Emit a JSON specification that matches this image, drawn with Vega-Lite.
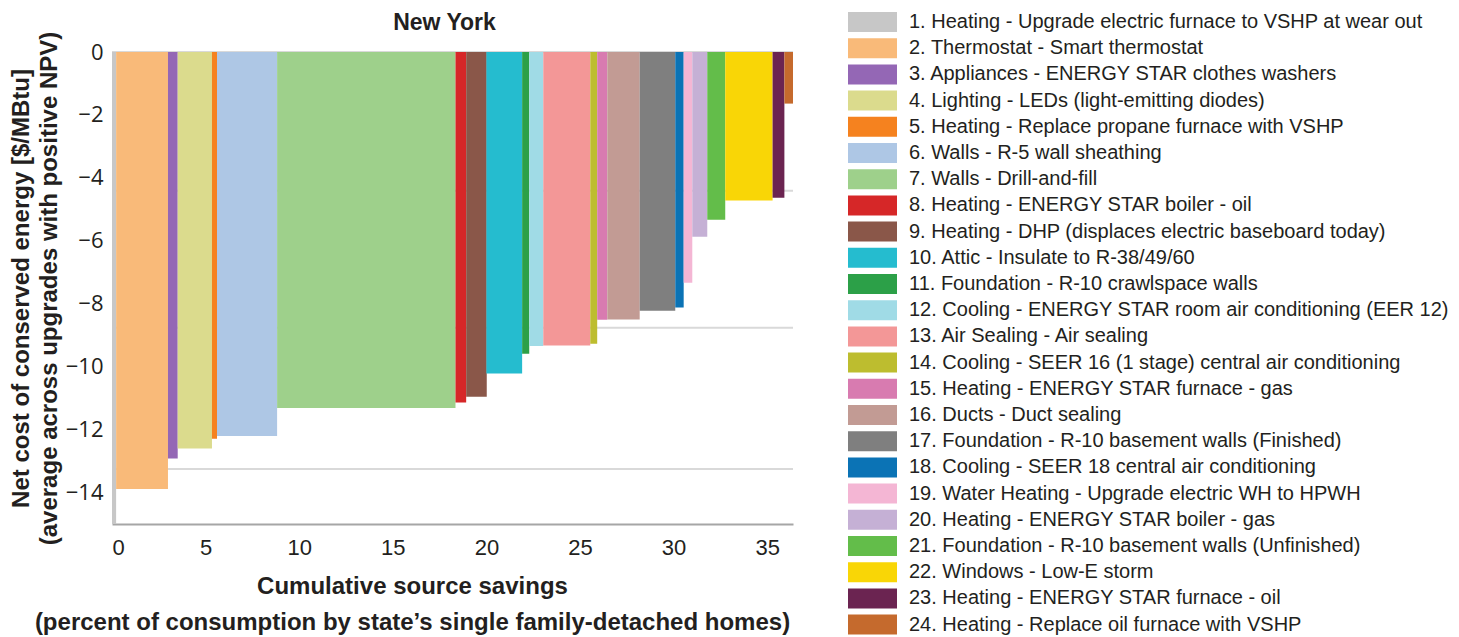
{
  "$schema": "https://vega.github.io/schema/vega-lite/v6.json",
  "width": 681,
  "height": 472,
  "autosize": {"type": "none"},
  "padding": {"left": 112, "top": 52, "right": 666, "bottom": 113},
  "title": {"text": "New York", "fontSize": 23, "font": "Liberation Sans", "fontWeight": "bold", "color": "#231f20", "anchor": "middle", "offset": -23, "dx": -8},
  "config": {"view": {"stroke": null}},
  "layer": [
    {
      "data": {"values": [{"g": 0}, {"g": -4.41}, {"g": -8.76}, {"g": -13.25}]},
      "mark": {"type": "rule", "color": "#d9d9d9", "strokeWidth": 2},
      "encoding": {"y": {"field": "g", "type": "quantitative", "scale": {"domain": [-15, 0], "nice": false},
          "axis": {"values": [0, -2, -4, -6, -8, -10, -12, -14], "grid": false, "ticks": false, "domain": false,
            "labelFont": "Open Sans", "labelFontSize": 22, "labelColor": "#231f20", "labelPadding": 9,
            "title": ["Net cost of conserved energy [$/MBtu]", "(average across upgrades with positive NPV)"],
            "titleFont": "Liberation Sans", "titleFontSize": 24, "titleFontWeight": "bold", "titleColor": "#231f20",
            "titleLineHeight": 28, "titleBaseline": "top", "titleAngle": -90, "titleX": -103, "titleY": 236, "titleAlign": "center"}}}
    },
    {
      "data": {"values": [
        {"id": 1, "label": "1. Heating - Upgrade electric furnace to VSHP at wear out", "x0": 0, "x1": 0.22, "v": -15},
        {"id": 2, "label": "2. Thermostat - Smart thermostat", "x0": 0.22, "x1": 2.99, "v": -13.89},
        {"id": 3, "label": "3. Appliances - ENERGY STAR clothes washers", "x0": 2.99, "x1": 3.51, "v": -12.92},
        {"id": 4, "label": "4. Lighting - LEDs (light-emitting diodes)", "x0": 3.51, "x1": 5.34, "v": -12.6},
        {"id": 5, "label": "5. Heating - Replace propane furnace with VSHP", "x0": 5.34, "x1": 5.61, "v": -12.29},
        {"id": 6, "label": "6. Walls - R-5 wall sheathing", "x0": 5.61, "x1": 8.82, "v": -12.2},
        {"id": 7, "label": "7. Walls - Drill-and-fill", "x0": 8.82, "x1": 18.35, "v": -11.31},
        {"id": 8, "label": "8. Heating - ENERGY STAR boiler - oil", "x0": 18.35, "x1": 18.92, "v": -11.14},
        {"id": 9, "label": "9. Heating - DHP (displaces electric baseboard today)", "x0": 18.92, "x1": 20.02, "v": -10.96},
        {"id": 10, "label": "10. Attic - Insulate to R-38/49/60", "x0": 20.0, "x1": 21.91, "v": -10.22},
        {"id": 11, "label": "11.  Foundation - R-10 crawlspace walls", "x0": 21.91, "x1": 22.29, "v": -9.59},
        {"id": 12, "label": "12. Cooling - ENERGY STAR room air conditioning (EER 12)", "x0": 22.29, "x1": 23.04, "v": -9.34},
        {"id": 13, "label": "13. Air Sealing - Air sealing", "x0": 23.04, "x1": 25.55, "v": -9.33},
        {"id": 14, "label": "14. Cooling - SEER 16 (1 stage) central air conditioning", "x0": 25.55, "x1": 25.92, "v": -9.27},
        {"id": 15, "label": "15. Heating - ENERGY STAR furnace - gas", "x0": 25.92, "x1": 26.46, "v": -8.51},
        {"id": 16, "label": "16. Ducts - Duct sealing", "x0": 26.46, "x1": 28.19, "v": -8.5},
        {"id": 17, "label": "17. Foundation - R-10 basement walls (Finished)", "x0": 28.19, "x1": 30.09, "v": -8.22},
        {"id": 18, "label": "18. Cooling - SEER 18 central air conditioning", "x0": 30.09, "x1": 30.54, "v": -8.12},
        {"id": 19, "label": "19. Water Heating - Upgrade electric WH to HPWH", "x0": 30.54, "x1": 31.0, "v": -7.33},
        {"id": 20, "label": "20. Heating - ENERGY STAR boiler - gas", "x0": 31.0, "x1": 31.8, "v": -5.87},
        {"id": 21, "label": "21. Foundation - R-10 basement walls (Unfinished)", "x0": 31.8, "x1": 32.76, "v": -5.33},
        {"id": 22, "label": "22. Windows - Low-E storm", "x0": 32.76, "x1": 35.29, "v": -4.72},
        {"id": 23, "label": "23. Heating - ENERGY STAR furnace - oil", "x0": 35.29, "x1": 35.92, "v": -4.63},
        {"id": 24, "label": "24. Heating - Replace oil furnace with VSHP", "x0": 35.92, "x1": 36.38, "v": -1.64}
      ]},
      "mark": {"type": "rect"},
      "encoding": {
        "x": {"field": "x0", "type": "quantitative", "scale": {"domain": [0, 36.38], "nice": false},
          "axis": {"values": [0, 5, 10, 15, 20, 25, 30, 35], "grid": false, "ticks": false, "domain": true, "domainColor": "#a6a6a6", "domainWidth": 2,
            "labelFont": "Liberation Sans", "labelFontSize": 22, "labelColor": "#231f20", "labelPadding": 13,
            "title": ["Cumulative source savings", "(percent of consumption by state’s single family-detached homes)"],
            "titleFont": "Liberation Sans", "titleFontSize": 24, "titleFontWeight": "bold", "titleColor": "#231f20",
            "titleLineHeight": 36, "titleBaseline": "top", "titleX": 300, "titleY": 50, "titleAlign": "center"}},
        "x2": {"field": "x1"},
        "y": {"field": "v", "type": "quantitative", "scale": {"domain": [-15, 0], "nice": false}},
        "y2": {"datum": 0},
        "color": {"field": "label", "type": "nominal",
          "scale": {"domain": [
            "1. Heating - Upgrade electric furnace to VSHP at wear out",
            "2. Thermostat - Smart thermostat",
            "3. Appliances - ENERGY STAR clothes washers",
            "4. Lighting - LEDs (light-emitting diodes)",
            "5. Heating - Replace propane furnace with VSHP",
            "6. Walls - R-5 wall sheathing",
            "7. Walls - Drill-and-fill",
            "8. Heating - ENERGY STAR boiler - oil",
            "9. Heating - DHP (displaces electric baseboard today)",
            "10. Attic - Insulate to R-38/49/60",
            "11.  Foundation - R-10 crawlspace walls",
            "12. Cooling - ENERGY STAR room air conditioning (EER 12)",
            "13. Air Sealing - Air sealing",
            "14. Cooling - SEER 16 (1 stage) central air conditioning",
            "15. Heating - ENERGY STAR furnace - gas",
            "16. Ducts - Duct sealing",
            "17. Foundation - R-10 basement walls (Finished)",
            "18. Cooling - SEER 18 central air conditioning",
            "19. Water Heating - Upgrade electric WH to HPWH",
            "20. Heating - ENERGY STAR boiler - gas",
            "21. Foundation - R-10 basement walls (Unfinished)",
            "22. Windows - Low-E storm",
            "23. Heating - ENERGY STAR furnace - oil",
            "24. Heating - Replace oil furnace with VSHP"],
            "range": ["#c7c7c7", "#f9ba79", "#9467b5", "#dbdb8d", "#f5821f", "#aec7e5", "#9ed08b", "#d62728", "#8a5749", "#25bccf", "#2ca048", "#a0dbe6", "#f39797", "#bdbd2f", "#d87bb0", "#c29b94", "#7f7f7f", "#0b73b5", "#f4b6d4", "#c5b0d5", "#63bd4a", "#f9d606", "#6b2451", "#c56a2d"]},
          "legend": {"orient": "none", "legendX": 750.5, "legendY": -40, "title": null, "padding": 0,
            "symbolType": "M-2.45,-1H2.45V1H-2.45Z", "symbolSize": 400, "symbolStrokeWidth": 0, "symbolOpacity": 1,
            "labelFont": "Liberation Sans", "labelFontSize": 20, "labelColor": "#231f20", "labelOffset": 26.5,
            "labelLimit": 700, "rowPadding": 6.2, "direction": "vertical", "columns": 1}}
      }
    }
  ]
}
